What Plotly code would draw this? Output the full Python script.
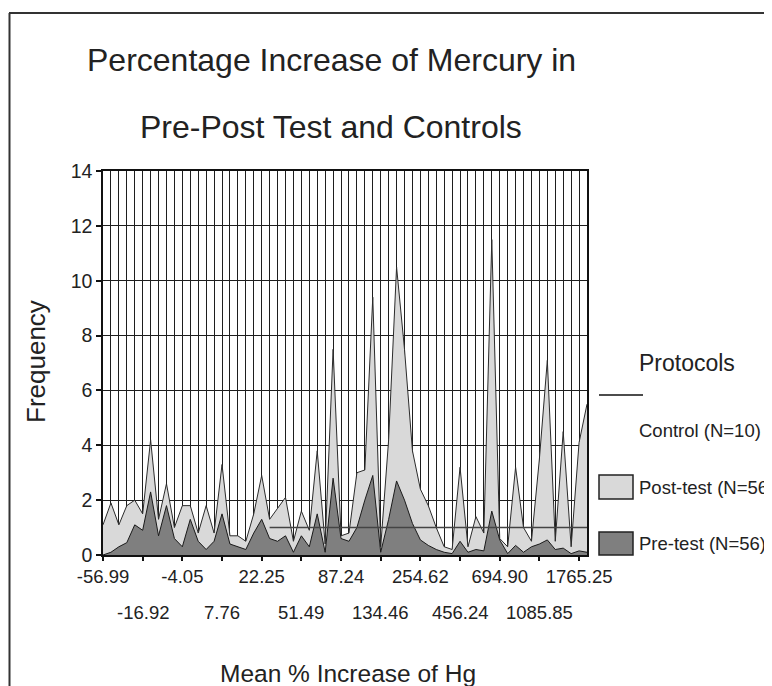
import plotly.graph_objects as go

# ---------------- data ----------------
bins = list(range(62))  # category index of each histogram bin
tick_positions = [0, 5, 10, 15, 20, 25, 30, 35, 40, 45, 50, 55, 60]
tick_labels = ["-56.99", "-16.92", "-4.05", "7.76", "22.25", "51.49", "87.24",
               "134.46", "254.62", "456.24", "694.90", "1085.85", "1765.25"]

post_test = [1.1, 1.9, 1.1, 1.8, 2.0, 1.5, 4.2, 1.3, 2.6, 1.0,
             1.8, 1.8, 0.8, 1.8, 0.8, 3.3, 0.7, 0.7, 0.5, 1.5,
             2.9, 1.3, 1.7, 2.1, 0.5, 1.6, 0.9, 3.8, 0.4, 7.5,
             0.7, 0.8, 3.0, 3.1, 9.4, 0.3, 4.2, 10.5, 7.5, 3.8,
             2.4, 1.8, 1.0, 0.3, 0.2, 3.2, 0.3, 1.4, 0.8, 11.5,
             0.6, 0.3, 3.2, 1.0, 0.5, 3.5, 7.1, 0.5, 4.5, 0.3,
             4.1, 5.5]
pre_test = [0.0, 0.1, 0.3, 0.45, 1.1, 0.9, 2.3, 0.7, 1.8, 0.6,
            0.3, 1.3, 0.5, 0.2, 0.5, 1.5, 0.4, 0.3, 0.2, 0.8,
            1.3, 0.6, 0.5, 0.7, 0.1, 0.7, 0.3, 1.5, 0.1, 2.8,
            0.6, 0.5, 1.0, 2.0, 2.9, 0.1, 1.3, 2.7, 2.0, 1.15,
            0.55, 0.35, 0.2, 0.1, 0.05, 0.5, 0.1, 0.2, 0.15, 1.6,
            0.55, 0.05, 0.35, 0.1, 0.3, 0.4, 0.55, 0.2, 0.25, 0.05,
            0.15, 0.1]
control = [None] * 21 + [1] * 41

series_names = ["Control (N=10)", "Post-test (N=56)", "Pre-test (N=56)"]
title_lines = ["Percentage Increase of Mercury in", "Pre-Post Test and Controls"]

# ---------------- figure ----------------
OFF = 8  # the page body margin shifts the figure by 8 px
W, H = 772 - OFF, 686 - OFF
L, R, T, B = 103 - OFF, 772 - 587, 171 - OFF, 686 - 555
pw, ph = W - L - R, H - T - B


def px(x):
    # x in screenshot pixels -> paper fraction
    return (x - OFF - L) / pw


def py(y):
    # y in screenshot pixels -> paper fraction
    return (H - B - (y - OFF)) / ph


FONT = "Liberation Sans, Arial, sans-serif"
TXT = "#222222"
LIGHT = "#d9d9d9"
DARK = "#7f7f7f"

fig = go.Figure()
fig.add_trace(go.Scatter(x=bins, y=post_test, mode="lines", fill="tozeroy",
                         fillcolor=LIGHT, line=dict(color="#2b2b2b", width=1),
                         name=series_names[1]))
fig.add_trace(go.Scatter(x=bins, y=pre_test, mode="lines", fill="tozeroy",
                         fillcolor=DARK, line=dict(color="#1a1a1a", width=1),
                         name=series_names[2]))
fig.add_trace(go.Scatter(x=bins, y=control, mode="lines",
                         line=dict(color="#444444", width=1.5),
                         name=series_names[0]))

row1 = [t if k % 2 == 0 else "" for k, t in enumerate(tick_labels)]

fig.update_layout(
    width=W, height=H, showlegend=False,
    margin=dict(l=L, r=R, t=T, b=B, pad=0),
    paper_bgcolor="white", plot_bgcolor="white",
    font=dict(family=FONT, color=TXT),
    xaxis=dict(range=[0, 61], tickmode="array", tickvals=tick_positions,
               ticktext=row1, ticks="outside", ticklen=4, tickwidth=2,
               tickcolor="#111", showline=True, linecolor="#111", linewidth=1.5,
               mirror=True, showgrid=True, gridcolor="#1e1e1e", gridwidth=1.3,
               minor=dict(tickmode="linear", tick0=0, dtick=1, showgrid=True,
                          gridcolor="#1e1e1e", gridwidth=1.3, ticks=""),
               zeroline=False, tickfont=dict(size=18.5, color=TXT)),
    yaxis=dict(range=[0, 14], dtick=2, tick0=0, ticks="outside", ticklen=5,
               tickwidth=2, tickcolor="#111", showline=True, linecolor="#111",
               linewidth=1.5, mirror=True, showgrid=True, gridcolor="#1e1e1e",
               gridwidth=1.3, zeroline=False, tickfont=dict(size=19.5, color=TXT)),
)

ann = []
# second row of category labels
for k, (pos, t) in enumerate(zip(tick_positions, tick_labels)):
    if k % 2 == 1:
        ann.append(dict(x=pos, y=py(612), xref="x", yref="paper", text=t,
                        showarrow=False, xanchor="center", yanchor="middle",
                        font=dict(size=18.5, color=TXT)))
# titles
ann.append(dict(x=px(331), y=py(60), xref="paper", yref="paper", text=title_lines[0],
                showarrow=False, xanchor="center", yanchor="middle",
                font=dict(size=32, color=TXT)))
ann.append(dict(x=px(331), y=py(127), xref="paper", yref="paper", text=title_lines[1],
                showarrow=False, xanchor="center", yanchor="middle",
                font=dict(size=32, color=TXT)))
ann.append(dict(x=px(348), y=py(673), xref="paper", yref="paper",
                text="Mean % Increase of Hg", showarrow=False, xanchor="center",
                yanchor="middle", font=dict(size=24.5, color=TXT)))
ann.append(dict(x=px(36), y=py(362), xref="paper", yref="paper", text="Frequency",
                showarrow=False, xanchor="center", yanchor="middle", textangle=-90,
                font=dict(size=26, color=TXT)))
# legend
ann.append(dict(x=px(637), y=py(363), xref="paper", yref="paper", text="Protocols",
                showarrow=False, xanchor="left", yanchor="middle",
                font=dict(size=23, color=TXT)))
for label, yy in [(series_names[0], 430), (series_names[1], 487), (series_names[2], 543)]:
    ann.append(dict(x=px(637), y=py(yy), xref="paper", yref="paper", text=label,
                    showarrow=False, xanchor="left", yanchor="middle",
                    font=dict(size=18.5, color=TXT)))

shapes = [
    dict(type="line", xref="paper", yref="paper", x0=px(599), x1=px(643),
         y0=py(395), y1=py(395), line=dict(color="#111", width=1.5)),
    dict(type="rect", xref="paper", yref="paper", x0=px(599), x1=px(633),
         y0=py(499), y1=py(475), fillcolor=LIGHT, line=dict(color="#222", width=1.5)),
    dict(type="rect", xref="paper", yref="paper", x0=px(599), x1=px(633),
         y0=py(555), y1=py(532), fillcolor=DARK, line=dict(color="#222", width=1.5)),
    # outer frame (left and top edges visible)
    dict(type="line", xref="paper", yref="paper", x0=px(9.5), x1=px(9.5),
         y0=py(13), y1=py(700), line=dict(color="#333", width=2)),
    dict(type="line", xref="paper", yref="paper", x0=px(9), x1=px(780),
         y0=py(13), y1=py(13), line=dict(color="#333", width=2)),
]
fig.update_layout(annotations=ann, shapes=shapes)

fig.write_html("out.html")
